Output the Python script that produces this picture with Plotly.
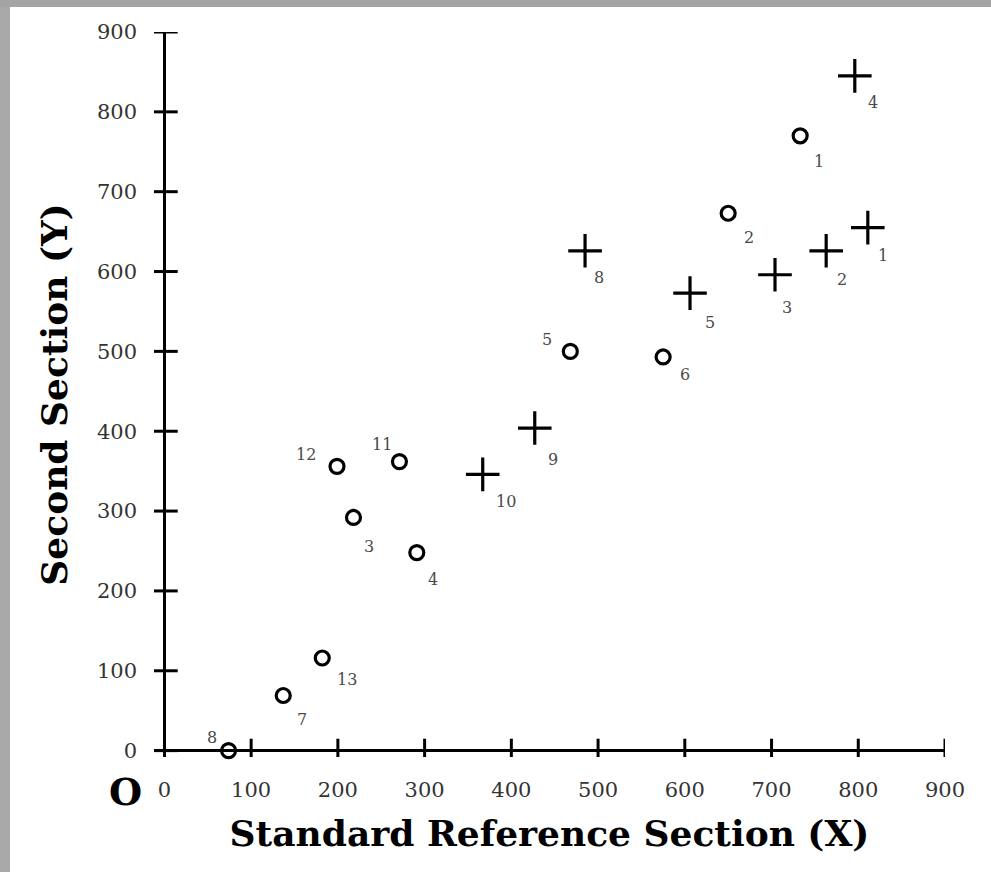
import plotly.graph_objects as go

# ---- data ----
circle_ids = [1, 2, 3, 4, 5, 6, 7, 8, 11, 12, 13]
circle_x = [733, 650, 218, 291, 468, 575, 137, 74, 271, 199, 182]
circle_y = [770, 673, 292, 248, 500, 493, 69, 0, 362, 356, 116]

cross_ids = [1, 2, 3, 4, 5, 8, 9, 10]
cross_x = [811, 763, 704, 796, 606, 485, 427, 367]
cross_y = [655, 626, 596, 845, 573, 626, 404, 346]

tick_vals = [0, 100, 200, 300, 400, 500, 600, 700, 800, 900]
tick_text = ["0", "100", "200", "300", "400", "500", "600", "700", "800", "900"]

x_title = "Standard Reference Section (X)"
y_title = "Second Section (Y)"
origin_label = "O"

# label offsets in screen pixels (dx right, dy down)
circle_label_off = [(19, 26), (21, 24), (16, 29), (16, 27), (-23, -12), (22, 18),
                    (19, 24), (-17, -13), (-17, -17), (-31, -12), (25, 22)]
cross_label_off = [(15, 28), (16, 29), (12, 33), (18, 27), (20, 29), (14, 27),
                   (18, 31), (23, 27)]

W, H = 991, 872
ML, MR, MT, MB = 154, 46, 32, 115
PW, PH = W - ML - MR, H - MT - MB

fig = go.Figure()

# tick marks crossing the axes
fig.add_trace(go.Scatter(
    x=tick_vals[1:], y=[0] * (len(tick_vals) - 1), mode="markers",
    marker=dict(symbol="line-ns", size=17, line=dict(width=3, color="black")),
    hoverinfo="skip", showlegend=False))
fig.add_trace(go.Scatter(
    x=[0] * len(tick_vals), y=tick_vals, mode="markers",
    marker=dict(symbol="line-ew", size=19, line=dict(width=3, color="black")),
    hoverinfo="skip", showlegend=False))

fig.add_trace(go.Scatter(
    x=circle_x, y=circle_y, mode="markers",
    marker=dict(symbol="circle-open", size=14, color="black",
                line=dict(width=3.2, color="black")),
    showlegend=False, cliponaxis=False))
fig.add_trace(go.Scatter(
    x=cross_x, y=cross_y, mode="markers",
    marker=dict(symbol="cross-thin-open", size=24, color="black",
                line=dict(width=3.2, color="black")),
    showlegend=False, cliponaxis=False))

label_font = dict(family="DejaVu Serif", size=16, color="#4a4a4a")
for i, xv, yv, (dx, dy) in zip(circle_ids, circle_x, circle_y, circle_label_off):
    fig.add_annotation(x=xv, y=yv, xref="x", yref="y", text=str(i), showarrow=False,
                       xshift=dx, yshift=-dy, font=label_font)
for i, xv, yv, (dx, dy) in zip(cross_ids, cross_x, cross_y, cross_label_off):
    fig.add_annotation(x=xv, y=yv, xref="x", yref="y", text=str(i), showarrow=False,
                       xshift=dx, yshift=-dy, font=label_font)

fig.add_annotation(x=0, y=0, xref="x", yref="y", text=origin_label, showarrow=False,
                   xshift=-39, yshift=-41,
                   font=dict(family="DejaVu Serif", size=38, color="black", weight="bold"))

# gray frame strips
fig.add_shape(type="rect", xref="paper", yref="paper",
              x0=-ML / PW, x1=(-ML + 10) / PW, y0=-MB / PH, y1=1 + MT / PH,
              fillcolor="#a8a8a8", line=dict(width=0), layer="below")
fig.add_shape(type="rect", xref="paper", yref="paper",
              x0=-ML / PW, x1=1 + MR / PW, y0=1 + (MT - 7) / PH, y1=1 + MT / PH,
              fillcolor="#a4a4a4", line=dict(width=0), layer="below")

tick_font = dict(family="DejaVu Serif", size=21, color="#333333")
title_font = dict(family="DejaVu Serif", size=36, color="black", weight="bold")

fig.update_layout(
    width=W, height=H,
    margin=dict(l=ML, r=MR, t=MT, b=MB),
    paper_bgcolor="white", plot_bgcolor="white",
    xaxis=dict(range=[-12, 900], tickvals=tick_vals, ticktext=tick_text,
               showgrid=False, showline=False, ticks="",
               zeroline=True, zerolinecolor="black", zerolinewidth=3,
               tickfont=tick_font, ticklabelstandoff=18,
               title=dict(text=x_title, font=title_font, standoff=19)),
    yaxis=dict(range=[-8, 900], tickvals=tick_vals, ticktext=tick_text,
               showgrid=False, showline=False, ticks="",
               zeroline=True, zerolinecolor="black", zerolinewidth=3,
               tickfont=tick_font, ticklabelstandoff=16,
               title=dict(text=y_title, font=title_font, standoff=18)),
)

fig.write_html("out.html", config={"displayModeBar": False},
               post_script="document.body.style.margin='0';")
